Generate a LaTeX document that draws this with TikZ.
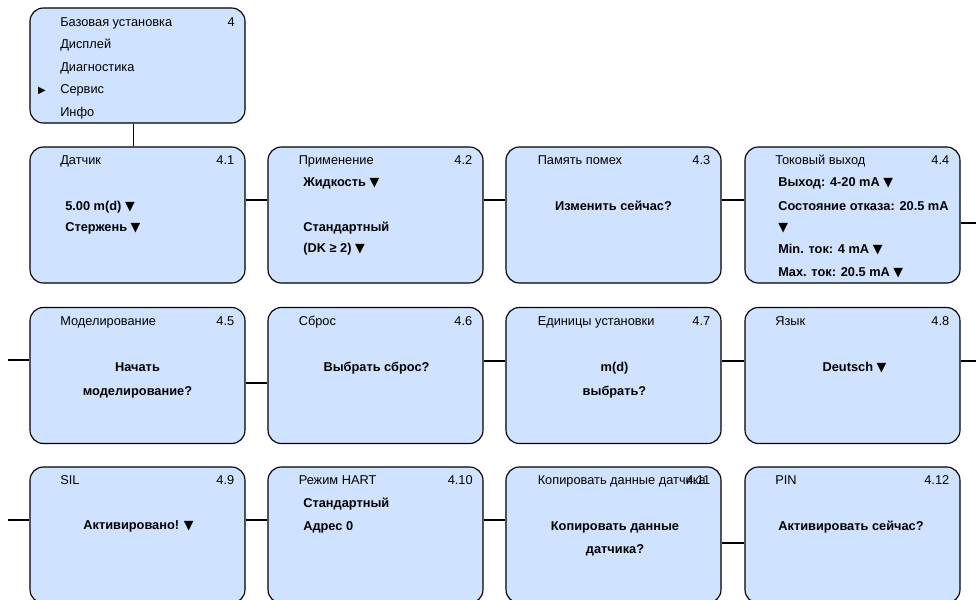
\documentclass[tikz,border=0pt]{standalone}
\usepackage{fontspec}
\setmainfont{Liberation Sans}
\newfontfamily\symfont{DejaVu Sans}
\usetikzlibrary{positioning}
\definecolor{menublue}{RGB}{207,226,255}
\newcommand{\dn}{{\symfont\fontsize{9.5}{10}\selectfont ▼}}

\begin{document}
\begin{tikzpicture}[x=0.75pt, y=-0.75pt,
  every node/.style={font=\fontsize{9.6}{11}\selectfont, inner sep=0pt},
  menu/.style={draw, rounded corners=10pt, fill=menublue, line width=0.85pt,
    minimum width=161.25pt, minimum height=102pt},
  hdr/.style={anchor=base west},
  num/.style={anchor=base east},
  val/.style={anchor=base west, font=\fontsize{9.6}{11}\selectfont\bfseries},
  valc/.style={anchor=base, font=\fontsize{9.6}{11}\selectfont\bfseries},
  link/.style={line width=0.85pt}]
\clip (0,0) rectangle (976,600);

% Main menu
\node[menu, minimum height=86.25pt] (m4) at (137.5,65.5) {};
\node[hdr] (m4t1) at (60,26) {Базовая установка};
\node[num] (m4n) at (235,26) {4};
\node[hdr] (m4t2) at (60,48.5) {Дисплей};
\node[hdr] (m4t3) at (60,71) {Диагностика};
\node[anchor=base] (m4sel) at (42,93) {\symfont\fontsize{7.5}{9}\selectfont ▶};
\node[hdr] (m4t4) at (60,93.5) {Сервис};
\node[hdr] (m4t5) at (60,116) {Инфо};

% Row 1
\node[menu] (m41) at (137.5,215) {};
\node[hdr] (m41t) at (60,164.5) {Датчик};
\node[num] (m41n) at (234.5,164.5) {4.1};
\node[val] (m41a) at (65,210.5) {5.00 m(d) \dn};
\node[val] (m41b) at (65,231.5) {Стержень \dn};

\node[menu] (m42) at (375.5,215) {};
\node[hdr] (m42t) at (298.5,164.5) {Применение};
\node[num] (m42n) at (472.5,164.5) {4.2};
\node[val] (m42a) at (303,186.5) {Жидкость \dn};
\node[val] (m42b) at (303,231.5) {Стандартный};
\node[val] (m42c) at (303,252.5) {(DK ≥ 2) \dn};

\node[menu] (m43) at (613.5,215) {};
\node[hdr] (m43t) at (537.5,164.5) {Память помех};
\node[num] (m43n) at (710.5,164.5) {4.3};
\node[valc] (m43a) at (613.5,210.5) {Изменить сейчас?};

\node[menu] (m44) at (852.5,215) {};
\node[hdr] (m44t) at (775,164.5) {Токовый выход};
\node[num] (m44n) at (949.5,164.5) {4.4};
\node[val] (m44a) at (778,186) {Выход: 4-20 mA \dn};
\node[val] (m44b) at (778,210.5) {Состояние отказа: 20.5 mA};
\node[val] (m44c) at (778,231) {\dn};
\node[val] (m44d) at (778,253) {Min. ток: 4 mA \dn};
\node[val] (m44e) at (778,276) {Max. ток: 20.5 mA \dn};

% Row 2
\node[menu] (m45) at (137.5,375.5) {};
\node[hdr] (m45t) at (60,325.5) {Моделирование};
\node[num] (m45n) at (234.5,325.5) {4.5};
\node[valc] (m45a) at (137.5,371.5) {Начать};
\node[valc] (m45b) at (137.5,395.5) {моделирование?};

\node[menu] (m46) at (375.5,375.5) {};
\node[hdr] (m46t) at (298.5,325.5) {Сброс};
\node[num] (m46n) at (472.5,325.5) {4.6};
\node[valc] (m46a) at (376.5,371.5) {Выбрать сброс?};

\node[menu] (m47) at (613.5,375.5) {};
\node[hdr] (m47t) at (537.5,325.5) {Единицы установки};
\node[num] (m47n) at (710.5,325.5) {4.7};
\node[valc] (m47a) at (614.5,371.5) {m(d)};
\node[valc] (m47b) at (614.5,395.5) {выбрать?};

\node[menu] (m48) at (852.5,375.5) {};
\node[hdr] (m48t) at (775,325.5) {Язык};
\node[num] (m48n) at (949.5,325.5) {4.8};
\node[valc] (m48a) at (854.5,371.5) {Deutsch \dn};

% Row 3
\node[menu] (m49) at (137.5,535) {};
\node[hdr] (m49t) at (60,484.5) {SIL};
\node[num] (m49n) at (234.5,484.5) {4.9};
\node[valc] (m49a) at (138.5,529.5) {Активировано! \dn};

\node[menu] (m410) at (375.5,535) {};
\node[hdr] (m410t) at (298.5,484.5) {Режим HART};
\node[num] (m410n) at (473,484.5) {4.10};
\node[val] (m410a) at (303,507.5) {Стандартный};
\node[val] (m410b) at (303,530.5) {Адрес 0};

\node[menu] (m411) at (613.5,535) {};
\node[hdr] (m411t) at (537.5,484.5) {Копировать данные датчика};
\node[num] (m411n) at (710.5,484.5) {4.11};
\node[valc] (m411a) at (615,530.5) {Копировать данные};
\node[valc] (m411b) at (615,553.5) {датчика?};

\node[menu] (m412) at (852.5,535) {};
\node[hdr] (m412t) at (775,484.5) {PIN};
\node[num] (m412n) at (949.5,484.5) {4.12};
\node[valc] (m412a) at (851,530.5) {Активировать сейчас?};

% loose ends
\coordinate (r1end) at (976,223);
\coordinate (r2start) at (8,360);
\coordinate (r2end) at (976,361);
\coordinate (r3start) at (8,520);

% Connectors
\draw[link] ([xshift=-3pt]m4.south) -- ([xshift=-3pt]m41.north);
\draw[link] ([yshift=11.25pt]m41.east) -- ([yshift=11.25pt]m42.west);
\draw[link] ([yshift=11.25pt]m42.east) -- ([yshift=11.25pt]m43.west);
\draw[link] ([yshift=11.25pt]m43.east) -- ([yshift=11.25pt]m44.west);
\draw[link] (m44.east |- r1end) -- (r1end);
\draw[link] (r2start) -- (m45.west |- r2start);
\draw[link] ([yshift=-5.6pt]m45.east) -- ([yshift=-5.6pt]m46.west);
\draw[link] ([yshift=10.9pt]m46.east) -- ([yshift=10.9pt]m47.west);
\draw[link] ([yshift=10.9pt]m47.east) -- ([yshift=10.9pt]m48.west);
\draw[link] (m48.east |- r2end) -- (r2end);
\draw[link] (r3start) -- (m49.west |- r3start);
\draw[link] ([yshift=11.25pt]m49.east) -- ([yshift=11.25pt]m410.west);
\draw[link] ([yshift=11.25pt]m410.east) -- ([yshift=11.25pt]m411.west);
\draw[link] ([yshift=-6pt]m411.east) -- ([yshift=-6pt]m412.west);
\end{tikzpicture}
\end{document}
